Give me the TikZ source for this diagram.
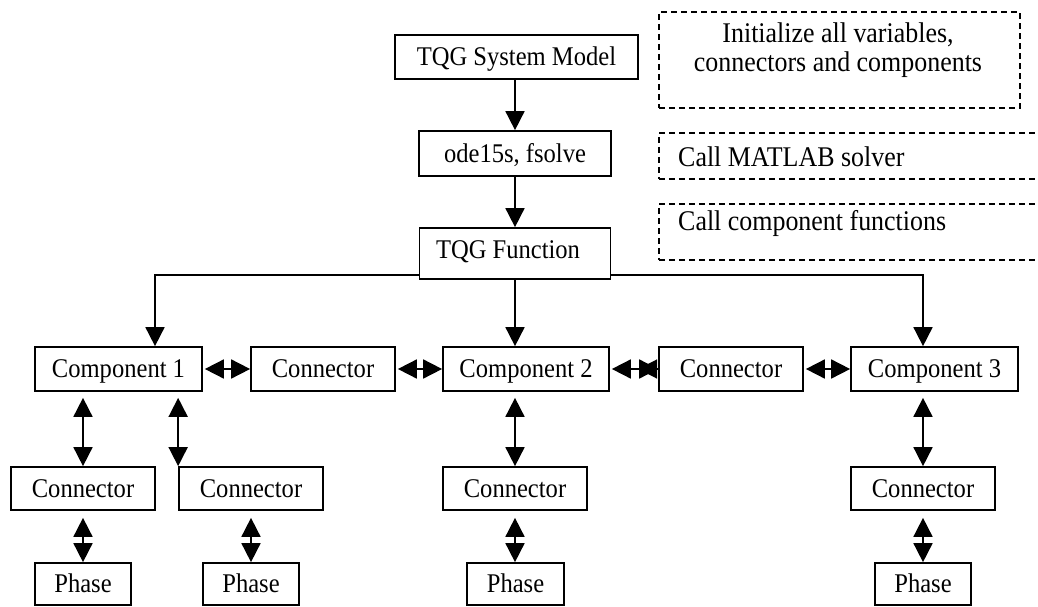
\documentclass[tikz,border=0pt]{standalone}
\usepackage{fontspec}
\setmainfont{Liberation Serif}[FakeStretch=0.91]
\usetikzlibrary{arrows.meta}
\begin{document}
\begin{tikzpicture}[x=1pt,y=-1pt,
  box/.style={draw, line width=1.7pt, inner sep=0pt, text height=17.9pt, text depth=0pt,
    font=\fontsize{27pt}{30pt}\selectfont},
  dbox/.style={draw, dash pattern=on 6pt off 4pt, line width=1.6pt, inner sep=0pt},
  ann/.style={inner sep=0pt, font=\fontsize{28.5pt}{30pt}\selectfont},
  arr/.style={line width=1.7pt, -{Triangle[length=19pt,width=19pt]}},
  darr/.style={line width=1.7pt, {Triangle[length=19pt,width=19pt]}-{Triangle[length=19pt,width=19pt]}}]
\useasboundingbox[fill=white] (0,0) rectangle (1038,607);

% main column
\node[box, minimum width=243pt, minimum height=44pt] (sm) at (516.5,57) {TQG System Model};
\node[box, minimum width=192pt, minimum height=45pt] (ode) at (515,153.5) {ode15s, fsolve};
\node[box, minimum width=191pt, minimum height=51pt, text depth=7pt] (tqg) at (515,253.5) {\hspace*{-14pt}TQG Function};

% annotations
\node[dbox, minimum width=361pt, minimum height=96pt, anchor=north west] (ann1) at (658,11) {};
\node[ann, anchor=base] (ann1a) at (838,43) {Initialize all variables,};
\node[ann, anchor=base] (ann1b) at (838,72) {connectors and components};
\begin{scope}
\clip (0,0) rectangle (1038,607);
\node[dbox, minimum width=420pt, minimum height=46pt, anchor=north west] (ann2) at (658,132) {};
\node[dbox, minimum width=420pt, minimum height=56pt, anchor=north west] (ann3) at (658,203) {};
\end{scope}
\node[ann, anchor=base west] (ann2t) at (678,166) {Call MATLAB solver};
\node[ann, anchor=base west] (ann3t) at (678,230) {Call component functions};

% component row
\node[box, minimum width=167pt, minimum height=44pt] (c1) at (118.5,369) {Component 1};
\node[box, minimum width=144pt, minimum height=44pt] (ca) at (323,369) {Connector};
\node[box, minimum width=166pt, minimum height=44pt] (c2) at (526,369) {Component 2};
\node[box, minimum width=144pt, minimum height=44pt] (cb) at (731,369) {Connector};
\node[box, minimum width=167pt, minimum height=44pt] (c3) at (934.5,369) {Component 3};

% connector row
\node[box, minimum width=144pt, minimum height=43pt] (k1) at (83,488.5) {Connector};
\node[box, minimum width=144pt, minimum height=43pt] (k2) at (251,488.5) {Connector};
\node[box, minimum width=144pt, minimum height=43pt] (k3) at (515,488.5) {Connector};
\node[box, minimum width=144pt, minimum height=43pt] (k4) at (923,488.5) {Connector};

% phase row
\node[box, minimum width=96pt, minimum height=42pt] (p1) at (83,584) {Phase};
\node[box, minimum width=96pt, minimum height=42pt] (p2) at (251,584) {Phase};
\node[box, minimum width=97pt, minimum height=42pt] (p3) at (515.5,584) {Phase};
\node[box, minimum width=96pt, minimum height=42pt] (p4) at (923,584) {Phase};

% top arrows
\draw[arr] (ode.north |- sm.south) -- (ode.north);
\draw[arr] (ode.south) -- (tqg.north);

% distribution
\coordinate (j1) at (155,275);
\coordinate (j3) at (923,275);
\draw[arr] (tqg.west |- j1) -- (j1) -- (j1 |- c1.north);
\draw[arr] (tqg.east |- j3) -- (j3) -- (j3 |- c3.north);
\draw[arr] (tqg.south) -- (tqg.south |- c2.north);

% horizontal links
\draw[darr, shorten <=2pt] (c1.east) -- (ca.west);
\draw[darr, shorten <=2pt] (ca.east) -- (c2.west);
\draw[darr, shorten <=2pt] (c2.east) -- (cb.west);
\draw[arr] (cb.west) -- ++(-20,0);
\draw[darr, shorten <=2pt] (cb.east) -- (c3.west);

% component to connector
\draw[darr, shorten <=6pt] (c1.south -| k1.north) -- (k1.north);
\draw[darr, shorten <=6pt] (c1.south -| k2.north west) -- (k2.north west);
\draw[darr, shorten <=6pt] (c2.south -| k3.north) -- (k3.north);
\draw[darr, shorten <=6pt] (c3.south -| k4.north) -- (k4.north);

% connector to phase
\draw[darr, shorten <=7pt] (k1.south) -- (p1.north);
\draw[darr, shorten <=7pt] (k2.south) -- (p2.north);
\draw[darr, shorten <=7pt] (k3.south) -- (k3.south |- p3.north);
\draw[darr, shorten <=7pt] (k4.south) -- (p4.north);
\end{tikzpicture}
\end{document}
